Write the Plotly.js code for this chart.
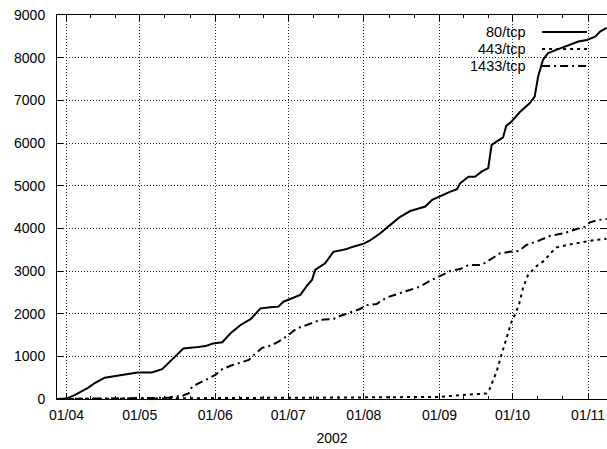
<!DOCTYPE html>
<html>
<head>
<meta charset="utf-8">
<script src="https://cdn.plot.ly/plotly-3.0.1.min.js"></script>
<style>html,body{margin:0;padding:0;background:#fff;}#chart{width:607px;height:449px;}</style>
</head>
<body>
<div id="chart"></div>
<script>
// ---- data ----
const seriesNames = ['80/tcp', '443/tcp', '1433/tcp'];
const xAxisTitle = '2002';

const dates80 = ['2002-03-28 02:00','2002-04-01 00:00','2002-04-04 12:00','2002-04-09 19:00','2002-04-12 14:00','2002-04-16 16:00',
 '2002-04-23 16:00','2002-04-30 05:00','2002-05-06 00:00','2002-05-10 05:00','2002-05-12 16:00','2002-05-15 14:00',
 '2002-05-18 22:00','2002-05-23 22:00','2002-05-28 00:00','2002-05-31 00:00','2002-06-03 22:00','2002-06-07 07:00',
 '2002-06-11 10:00','2002-06-15 12:00','2002-06-19 14:00','2002-06-23 16:00','2002-06-26 22:00','2002-06-29 00:00',
 '2002-07-03 00:00','2002-07-05 22:00','2002-07-08 14:00','2002-07-10 17:00','2002-07-12 00:00','2002-07-16 02:00',
 '2002-07-19 12:00','2002-07-25 00:00','2002-07-27 14:00','2002-08-01 00:00','2002-08-03 12:00','2002-08-07 14:00',
 '2002-08-11 17:00','2002-08-15 22:00','2002-08-20 00:00','2002-08-24 02:00','2002-08-26 05:00','2002-08-29 00:00',
 '2002-09-01 10:00','2002-09-04 02:00','2002-09-05 12:00','2002-09-08 05:00','2002-09-09 12:00','2002-09-12 22:00',
 '2002-09-15 14:00','2002-09-18 07:00','2002-09-21 00:00','2002-09-22 10:00','2002-09-24 10:00','2002-09-27 02:00',
 '2002-09-28 10:00','2002-09-30 12:00','2002-10-03 22:00','2002-10-08 00:00','2002-10-10 02:00','2002-10-11 12:00',
 '2002-10-13 12:00','2002-10-15 14:00','2002-10-18 10:00','2002-10-23 05:00','2002-10-28 00:00','2002-10-31 12:00',
 '2002-11-03 22:00','2002-11-05 22:00','2002-11-08 14:00'];
const values80 = [0,10,95,260,375,500,
 560,620,620,700,835,990,
 1185,1210,1240,1300,1330,1540,
 1735,1870,2125,2150,2165,2280,
 2380,2440,2650,2790,3025,3180,
 3450,3515,3570,3640,3715,3880,
 4075,4270,4405,4470,4510,4670,
 4762,4820,4860,4915,5055,5210,
 5210,5330,5410,5955,6035,6130,
 6400,6500,6720,6930,7090,7560,
 7950,8110,8170,8280,8380,8415,
 8490,8610,8700];

const dates443 = ['2002-03-28 02:00','2002-04-15 00:00','2002-05-10 00:00','2002-06-10 00:00','2002-07-10 00:00','2002-08-10 00:00',
 '2002-09-01 00:00','2002-09-10 22:00','2002-09-20 07:00','2002-09-21 12:00','2002-09-23 17:00','2002-09-24 12:00',
 '2002-09-26 10:00','2002-09-28 10:00','2002-09-30 12:00','2002-10-01 19:00','2002-10-03 14:00','2002-10-05 07:00',
 '2002-10-07 07:00','2002-10-10 12:00','2002-10-14 05:00','2002-10-16 07:00','2002-10-19 00:00','2002-10-23 05:00',
 '2002-10-27 07:00','2002-11-01 00:00','2002-11-04 14:00','2002-11-08 14:00'];
const values443 = [0,10,20,25,30,35,
 50,95,130,220,560,650,
 1030,1400,1800,1950,2200,2600,
 2900,3100,3250,3400,3550,3610,
 3660,3700,3730,3755];

const dates1433 = ['2002-03-28 02:00','2002-04-14 00:00','2002-05-01 00:00','2002-05-13 00:00','2002-05-16 00:00','2002-05-18 00:00',
 '2002-05-19 12:00','2002-05-21 02:00','2002-05-22 12:00','2002-05-25 07:00','2002-05-29 10:00','2002-06-01 05:00',
 '2002-06-03 05:00','2002-06-07 07:00','2002-06-11 10:00','2002-06-14 19:00','2002-06-17 12:00','2002-06-20 07:00',
 '2002-06-23 17:00','2002-06-27 00:00','2002-06-30 12:00','2002-07-04 12:00','2002-07-08 14:00','2002-07-12 00:00',
 '2002-07-15 10:00','2002-07-19 12:00','2002-07-22 05:00','2002-07-25 00:00','2002-07-27 14:00','2002-07-30 10:00',
 '2002-08-02 02:00','2002-08-06 05:00','2002-08-10 10:00','2002-08-14 12:00','2002-08-18 14:00','2002-08-24 02:00',
 '2002-08-28 07:00','2002-09-01 10:00','2002-09-05 12:00','2002-09-09 12:00','2002-09-12 22:00','2002-09-18 07:00',
 '2002-09-22 10:00','2002-09-25 17:00','2002-09-29 19:00','2002-10-03 14:00','2002-10-06 17:00','2002-10-10 19:00',
 '2002-10-16 07:00','2002-10-21 19:00','2002-10-27 07:00','2002-10-30 19:00','2002-11-01 19:00','2002-11-05 05:00',
 '2002-11-08 14:00'];
const values1433 = [0,10,20,30,70,50,
 100,130,290,365,485,570,
 680,780,860,915,1070,1200,
 1250,1345,1475,1655,1735,1810,
 1865,1875,1945,2005,2060,2110,
 2200,2225,2380,2455,2530,2635,
 2775,2880,3000,3045,3140,3140,
 3295,3410,3450,3470,3610,3690,
 3820,3880,3985,4040,4140,4195,
 4220];

const xRange = ['2002-03-28 02:00', '2002-11-08 18:00'];
const yRange = [0, 9000];
const yTicks = [0,1000,2000,3000,4000,5000,6000,7000,8000,9000];

// ---- styling ----
const FONT = 'Liberation Sans, Arial, Helvetica, sans-serif';
const dashes = ['solid', '3px,4px', '8px,4px,2px,4px'];
const widths = [2, 2, 2];

// minor ticks: each month split into thirds
const minorVals = [];
for (let m = 2; m <= 10; m++) {
  const start = Date.UTC(2002, m, 1);
  const end = Date.UTC(2002, m + 1, 1);
  for (let k = 1; k <= 2; k++) {
    const t = new Date(start + (end - start) * k / 3);
    minorVals.push(t.toISOString().slice(0, 16).replace('T', ' '));
  }
}

const allDates = [dates80, dates443, dates1433];
const allVals = [values80, values443, values1433];
const traces = seriesNames.map((n, i) => ({
  type: 'scatter', mode: 'lines', name: n,
  x: allDates[i], y: allVals[i],
  line: {color: '#000', width: widths[i], dash: dashes[i]},
  showlegend: false
}));

// custom gnuplot-style legend (text left, sample right)
const legY = [0.9557, 0.9115, 0.8672];
const annotations = seriesNames.map((n, i) => ({
  xref: 'paper', yref: 'paper', x: 0.8564, y: legY[i],
  xanchor: 'right', yanchor: 'middle', text: n, showarrow: false,
  font: {family: FONT, size: 14.5, color: '#000'}
}));
const shapes = seriesNames.map((n, i) => ({
  type: 'line', xref: 'paper', yref: 'paper',
  x0: 0.882, x1: 0.9636, y0: legY[i], y1: legY[i],
  line: {color: '#000', width: widths[i], dash: dashes[i]}
}));

const layout = {
  width: 607, height: 449,
  margin: {l: 57, r: 0, t: 15, b: 50},
  paper_bgcolor: '#fff', plot_bgcolor: '#fff',
  font: {family: FONT, size: 14, color: '#000'},
  showlegend: false,
  xaxis: {
    type: 'date', range: xRange, autorange: false,
    tick0: '2002-04-01', dtick: 'M1', tickformat: '%d/%m',
    ticks: 'inside', ticklen: 6, tickcolor: '#000', tickwidth: 1,
    showline: true, linecolor: '#000', linewidth: 1, mirror: 'allticks',
    showgrid: true, gridcolor: '#222', gridwidth: 1, griddash: '1px,2px',
    zeroline: false, ticklabelstandoff: 3,
    tickfont: {family: FONT, size: 14, color: '#000'},
    minor: {tickmode: 'array', tickvals: minorVals, ticks: 'inside', ticklen: 3, tickcolor: '#000', showgrid: false},
    title: {text: xAxisTitle, font: {family: FONT, size: 14, color: '#000'}, standoff: 11}
  },
  yaxis: {
    range: yRange, autorange: false,
    tickmode: 'array', tickvals: yTicks,
    ticks: 'inside', ticklen: 6, tickcolor: '#000', tickwidth: 1,
    showline: true, linecolor: '#000', linewidth: 1, mirror: 'allticks',
    showgrid: true, gridcolor: '#222', gridwidth: 1, griddash: '1px,2px',
    zeroline: false, ticklabelstandoff: 8,
    tickfont: {family: FONT, size: 14, color: '#000'}
  },
  annotations: annotations,
  shapes: shapes
};

Plotly.newPlot('chart', traces, layout, {staticPlot: true, displayModeBar: false});
</script>
</body>
</html>
